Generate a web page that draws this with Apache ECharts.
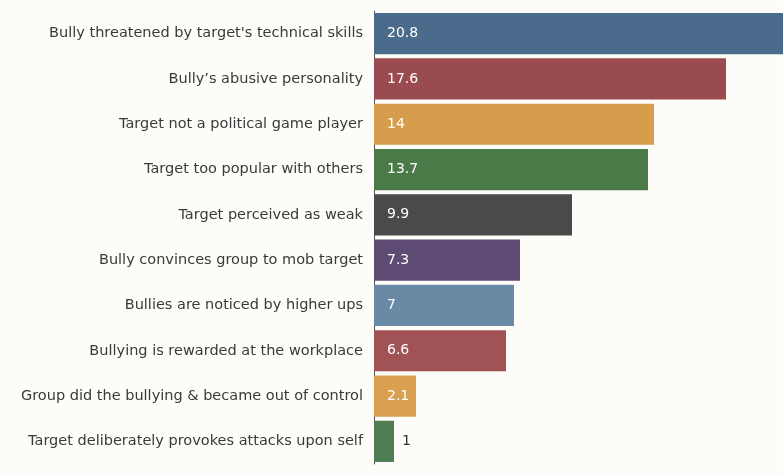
<!DOCTYPE html>
<html>
<head>
<meta charset="utf-8">
<script src="https://cdn.jsdelivr.net/npm/echarts@6/dist/echarts.min.js"></script>
<style>
  html, body { margin: 0; padding: 0; background: #fdfcf8; }
  #chart { width: 783px; height: 474px; }
</style>
</head>
<body>
<div id="chart"></div>
<script>
// Reasons given for workplace bullying (percent of responses)
const categories = [
  "Bully threatened by target's technical skills",
  "Bully\u2019s abusive personality",
  "Target not a political game player",
  "Target too popular with others",
  "Target perceived as weak",
  "Bully convinces group to mob target",
  "Bullies are noticed by higher ups",
  "Bullying is rewarded at the workplace",
  "Group did the bullying & became out of control",
  "Target deliberately provokes attacks upon self"
];
const values = [20.8, 17.6, 14, 13.7, 9.9, 7.3, 7, 6.6, 2.1, 1];
const barColors = [
  "#4b6b8d", "#994b4f", "#d69d4c", "#4b7a49", "#4a4a4a",
  "#5d4b73", "#6a89a5", "#a05255", "#d9a14f", "#4f7c52"
];

const chart = echarts.init(document.getElementById('chart'), null, { renderer: 'canvas' });

const data = values.map((v, i) => {
  const small = v < 1.5;
  return {
    value: v,
    itemStyle: { color: barColors[i] },
    label: small
      ? { position: 'right', distance: 8, color: '#333' }
      : { position: 'insideLeft', distance: 13, color: '#fff' }
  };
});

chart.setOption({
  backgroundColor: '#fdfcf8',
  animation: false,
  // the longest bar runs past the right edge of the plot and is clipped there
  grid: { left: 374, right: 0, top: 11, bottom: 10, containLabel: false },
  xAxis: {
    type: 'value',
    min: 0,
    max: 20.45,
    show: false
  },
  yAxis: {
    type: 'category',
    data: categories,
    inverse: true,
    axisLine: { show: true, lineStyle: { color: '#555', width: 1 } },
    axisTick: { show: false },
    axisLabel: {
      margin: 11,
      color: '#3a3a3a',
      fontSize: 14.5,
      fontFamily: 'DejaVu Sans, sans-serif'
    }
  },
  series: [{
    type: 'bar',
    data: data,
    clip: true,
    barCategoryGap: '9%',
    label: {
      show: true,
      fontSize: 14,
      fontFamily: 'DejaVu Sans, sans-serif'
    }
  }]
});
</script>
</body>
</html>
